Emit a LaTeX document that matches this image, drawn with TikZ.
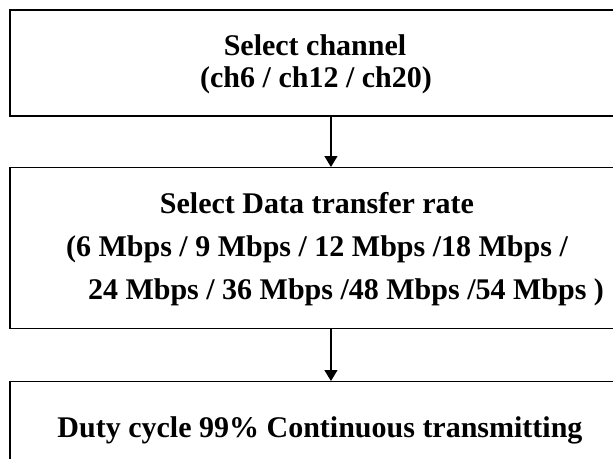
\documentclass[tikz,border=0pt]{standalone}
\usepackage{fontspec}
\setmainfont{Liberation Serif}
\usetikzlibrary{arrows.meta}
\begin{document}
\begin{tikzpicture}[x=1pt,y=-1pt,
  box/.style={draw, line width=1.3pt, inner sep=0pt, anchor=north west},
  lbl/.style={font=\fontsize{30}{36}\selectfont\bfseries, anchor=base, inner sep=0pt},
  flow/.style={-{Triangle[width=13pt,length=11pt]}, line width=1.3pt}]
\clip (0,0) rectangle (613,458);
\node[box, minimum width=642pt, minimum height=106pt] (b1) at (9.3,9.3) {};
\node[box, minimum width=642pt, minimum height=160.7pt] (b2) at (9.3,167) {};
\node[box, minimum width=642pt, minimum height=140pt] (b3) at (9.3,381) {};
\node[lbl] (t1a) at (315,55) {Select channel};
\node[lbl] (t1b) at (316,87) {(ch6 / ch12 / ch20)};
\node[lbl] (t2a) at (317,213) {Select Data transfer rate};
\node[lbl] (t2b) at (317,256) {(6 Mbps / 9 Mbps / 12 Mbps /18 Mbps /};
\node[lbl] (t2c) at (346,299) {24 Mbps / 36 Mbps /48 Mbps /54 Mbps )};
\node[lbl] (t3) at (320,437) {Duty cycle 99\% Continuous transmitting};
\draw[flow] (b1.south) -- (b2.north);
\draw[flow] (b2.south) -- (b3.north);
\end{tikzpicture}
\end{document}
